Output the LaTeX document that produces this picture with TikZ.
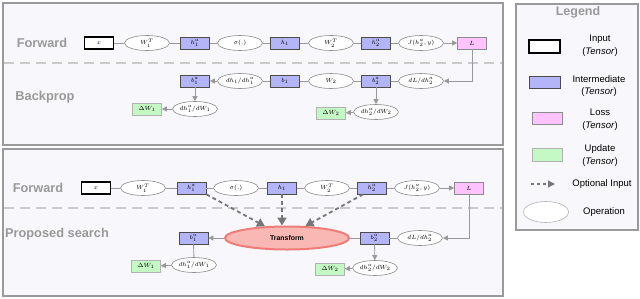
\documentclass[tikz,border=0pt]{standalone}
\usepackage{fontspec}
\setsansfont{Liberation Sans}
\usetikzlibrary{shapes.geometric,arrows.meta,calc}
\definecolor{framec}{HTML}{9A9A9A}
\definecolor{panelc}{HTML}{F8F8FC}
\definecolor{interc}{HTML}{B4B4F8}
\definecolor{lossc}{HTML}{FFC4FF}
\definecolor{updc}{HTML}{C4F8C4}
\definecolor{connc}{HTML}{9A9A9A}
\definecolor{sepc}{HTML}{CACACA}
\definecolor{trfc}{HTML}{F9B8B4}
\definecolor{trdc}{HTML}{F07C78}
\definecolor{optc}{HTML}{777777}
\definecolor{titlec}{HTML}{999999}
\tikzset{
  panel/.style={draw=framec, fill=panelc, line width=2.6pt},
  sepline/.style={draw=sepc, line width=1.6pt, dash pattern=on 10pt off 6pt},
  sect/.style={font=\sffamily\bfseries\fontsize{12.8}{14}\selectfont, text=titlec, inner sep=0},
  tbox/.style={rectangle, minimum width=29pt, minimum height=12pt, inner sep=0, font=\fontsize{6}{7}\selectfont},
  inter/.style={tbox, draw=black!70, fill=interc, line width=0.6pt},
  inp/.style={tbox, draw=black, fill=white, line width=1.6pt},
  lossb/.style={tbox, draw=black!45, fill=lossc, line width=0.6pt},
  updb/.style={tbox, draw=black!30, fill=updc, line width=0.6pt},
  op/.style={ellipse, draw=black!45, fill=white, line width=0.6pt, minimum width=45pt, minimum height=15pt, inner sep=0, font=\fontsize{6}{7}\selectfont},
  conn/.style={draw=connc, line width=0.9pt},
  arr/.style={conn, -{Triangle[length=5pt,width=5pt]}},
  opt/.style={draw=optc, line width=1.8pt, dash pattern=on 4pt off 3pt, -{Triangle[length=8pt,width=9pt]}},
  legtxt/.style={font=\sffamily\fontsize{9.5}{12.5}\selectfont, align=center, inner sep=0},
}
\begin{document}
\begin{tikzpicture}[x=1pt,y=-1pt]
\useasboundingbox (0,0) rectangle (640,298);
% panels
\draw[panel] (3,3) rectangle (503,145);
\draw[panel] (3,149) rectangle (503,296);
\draw[panel] (516,4) rectangle (638,230);
\draw[sepline] (4,63) -- (502,63);
\draw[sepline] (4,208) -- (502,208);

% ---------- top panel ----------
\node[sect] (tf) at (42,43) {Forward};
\node[sect] (tb) at (45,97) {Backprop};

\node[inp]   (tx)   at (99,43)  {$x$};
\node[op]    (tW1T) at (147,43) {$W_1^T$};
\node[inter] (th1a) at (195,43) {$h_1^a$};
\node[op]    (tsig) at (240,43) {$\sigma(.)$};
\node[inter] (th1)  at (285,43) {$h_1$};
\node[op]    (tW2T) at (331,43) {$W_2^T$};
\node[inter] (th2a) at (376,43) {$h_2^a$};
\node[op]    (tJ)   at (421,43) {$J(h_2^a,y)$};
\node[lossb] (tL)   at (472,43) {$L$};

\node[inter] (tb1a) at (195,81) {$b_1^a$};
\node[op]    (tdh1) at (240,81) {$dh_1/dh_1^a$};
\node[inter] (tb1)  at (285,81) {$b_1$};
\node[op]    (tW2)  at (331,81) {$W_2$};
\node[inter] (tb2a) at (376,81) {$b_2^a$};
\node[op]    (tdL)  at (421,81) {$dL/dh_2^a$};

\node[op]    (tdW1) at (195,109) {$dh_1^a/dW_1$};
\node[updb]  (tDW1) at (147,109) {$\Delta W_1$};
\node[op]    (tdW2) at (376,112) {$dh_2^a/dW_2$};
\node[updb]  (tDW2) at (331,113) {$\Delta W_2$};

\draw[conn] (tx) -- (tW1T);
\draw[conn] (tW1T) -- (th1a);
\draw[conn] (th1a) -- (tsig);
\draw[conn] (tsig) -- (th1);
\draw[conn] (th1) -- (tW2T);
\draw[conn] (tW2T) -- (th2a);
\draw[conn] (th2a) -- (tJ);
\draw[arr] (tJ) -- (tL);
\draw[arr] (tL.south) |- (tdL.east);
\draw[conn] (tdL) -- (tb2a);
\draw[conn] (tb2a) -- (tW2);
\draw[conn] (tW2) -- (tb1);
\draw[conn] (tb1) -- (tdh1);
\draw[arr] (tdh1) -- (tb1a);
\draw[arr] (tb1a) -- (tdW1);
\draw[arr] (tdW1) -- (tDW1);
\draw[arr] (tb2a) -- (tdW2);
\draw[arr] (tdW2) -- (tDW2);

% ---------- bottom panel ----------
\node[sect] (bf) at (38,188) {Forward};
\node[sect] (bp) at (57,234) {Proposed search};

\node[inp]   (bx)   at (96,188)  {$x$};
\node[op]    (bW1T) at (143,188) {$W_1^T$};
\node[inter] (bh1a) at (191.5,188) {$h_1^a$};
\node[op]    (bsig) at (236,188) {$\sigma(.)$};
\node[inter] (bh1)  at (282,188) {$h_1$};
\node[op]    (bW2T) at (327,188) {$W_2^T$};
\node[inter] (bh2a) at (372,188) {$h_2^a$};
\node[op]    (bJ)   at (417,188) {$J(h_2^a,y)$};
\node[lossb] (bL)   at (469,188) {$L$};

\node[inter] (bb1a) at (193.5,238) {$b_1^a$};
\node[ellipse, draw=trdc, fill=trfc, line width=2pt, minimum width=124pt, minimum height=23pt, inner sep=0,
      font=\sffamily\bfseries\fontsize{6.9}{8}\selectfont] (bT) at (287,238) {Transform};
\node[inter] (bb2a) at (374.5,238) {$b_2^a$};
\node[op]    (bdL)  at (420,238) {$dL/dh_2^a$};

\node[op]    (bdW1) at (194,265) {$dh_1^a/dW_1$};
\node[updb]  (bDW1) at (146,266) {$\Delta W_1$};
\node[op]    (bdW2) at (375,268) {$dh_2^a/dW_2$};
\node[updb]  (bDW2) at (330,269) {$\Delta W_2$};

\draw[conn] (bx) -- (bW1T);
\draw[conn] (bW1T) -- (bh1a);
\draw[conn] (bh1a) -- (bsig);
\draw[conn] (bsig) -- (bh1);
\draw[conn] (bh1) -- (bW2T);
\draw[conn] (bW2T) -- (bh2a);
\draw[conn] (bh2a) -- (bJ);
\draw[arr] (bJ) -- (bL);
\draw[arr] (bL.south) |- (bdL.east);
\draw[conn] (bdL) -- (bb2a);
\draw[conn] (bb2a) -- (bT);
\draw[arr] (bT) -- (bb1a);
\draw[conn] (bb1a) -- (bdW1);
\draw[arr] (bdW1) -- (bDW1);
\draw[arr] (bb2a) -- (bdW2);
\draw[arr] (bdW2) -- (bDW2);

\draw[opt] (bh1a.south east) -- (bT.152);
\draw[opt] (bh1.south) -- (bh1.south |- bT.north);
\draw[opt] ([xshift=6pt]bh2a.south west) -- (bT.33);

% ---------- legend ----------
\node[font=\sffamily\bfseries\fontsize{12.5}{14}\selectfont, text=titlec, inner sep=0] (lt) at (578,12) {Legend};
\node[inp, minimum width=31pt, minimum height=13pt] (lin) at (544.5,46.5) {};
\node[legtxt] (linT) at (600,45.7) {Input\\(\textit{Tensor})};
\node[inter, minimum width=31pt] (lint) at (544.5,82) {};
\node[legtxt] (lintT) at (599,86.2) {Intermediate\\(\textit{Tensor})};
\node[lossb, minimum width=30pt] (lls) at (547,118) {};
\node[legtxt] (llsT) at (600,119.5) {Loss\\(\textit{Tensor})};
\node[updb, minimum width=30pt, minimum height=13pt] (lup) at (547,154.5) {};
\node[legtxt] (lupT) at (600,155.5) {Update\\(\textit{Tensor})};
\coordinate (lo1) at (531,184);
\coordinate (lo2) at (555,184);
\draw[draw=optc, line width=1.3pt, dash pattern=on 3pt off 3pt, -{Triangle[length=7pt,width=7pt]}] (lo1) -- (lo2);
\node[legtxt] (loT) at (602,184) {Optional Input};
\node[op, minimum width=45pt, minimum height=21pt, draw=black!30] (lop) at (546,212) {};
\node[legtxt] (lopT) at (604,212) {Operation};
\end{tikzpicture}
\end{document}
